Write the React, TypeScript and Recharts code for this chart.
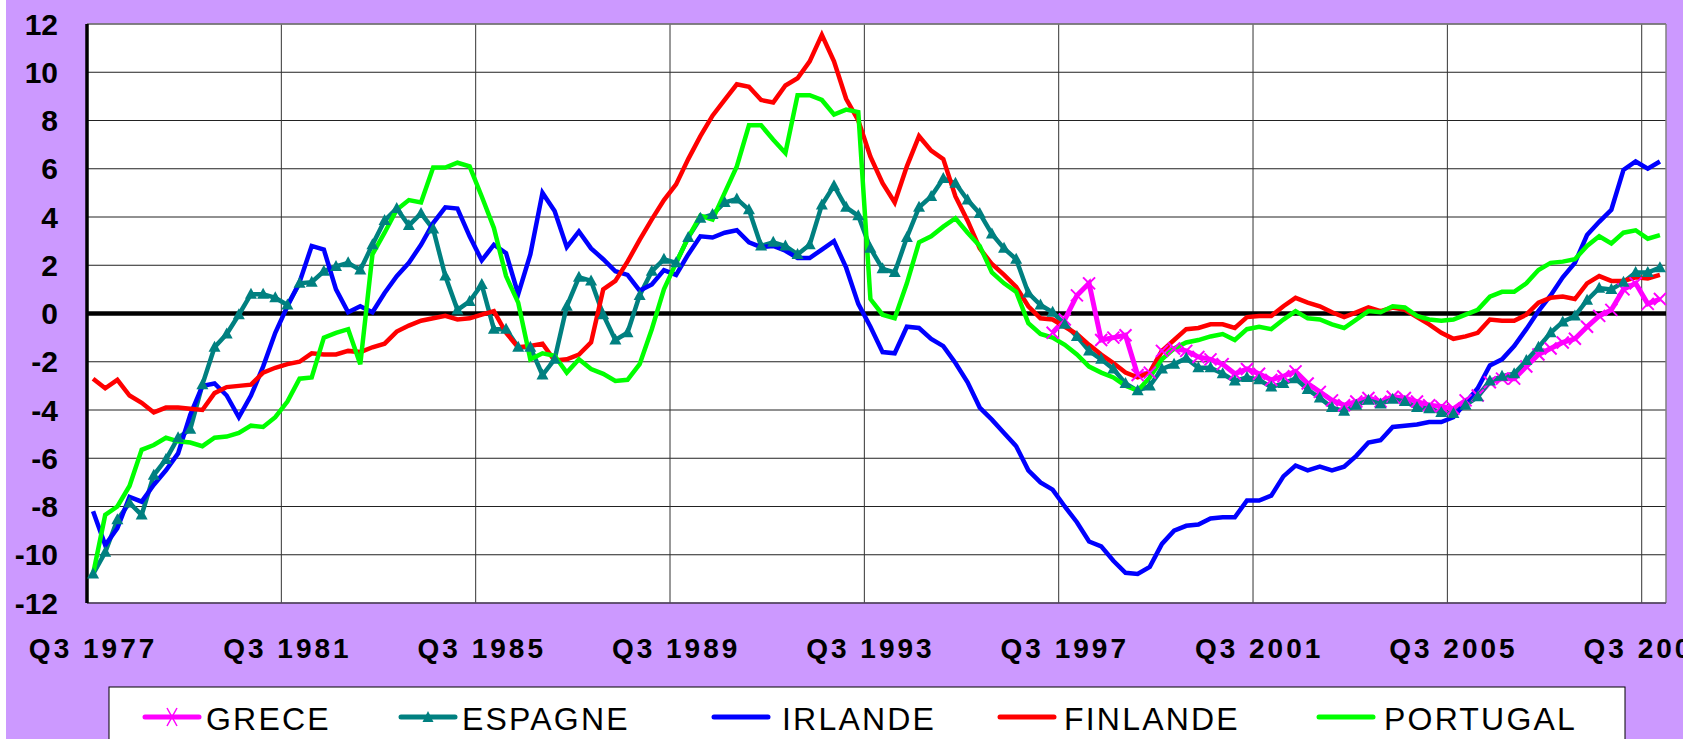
import React from 'react';
import { LineChart, Line, XAxis, YAxis, CartesianGrid, ReferenceLine } from 'recharts';

// quarterly data, Q3 1977 .. Q4 2009
const quarterCount = 130;
const tickQuarters = [0, 16, 32, 48, 64, 80, 96, 112, 128];
const tickLabels = ['Q3 1977', 'Q3 1981', 'Q3 1985', 'Q3 1989', 'Q3 1993', 'Q3 1997', 'Q3 2001', 'Q3 2005', 'Q3 2009'];
const yTicks = [-12, -10, -8, -6, -4, -2, 0, 2, 4, 6, 8, 10, 12];

const greceStart = 79;
const greceValues = [
  -0.8, -0.25, 0.75, 1.25, -1.1, -1.0, -0.9, -2.55, -2.45, -1.55, -1.45, -1.55, -1.8, -1.9, -2.1, -2.5,
  -2.3, -2.5, -2.75, -2.6, -2.4, -2.9, -3.25, -3.6, -3.8, -3.65, -3.5, -3.65, -3.45, -3.5, -3.65, -3.8,
  -3.85, -3.95, -3.6, -3.4, -2.85, -2.7, -2.7, -2.2, -1.7, -1.45, -1.2, -1.05, -0.55, -0.1, 0.15, 1.0,
  1.25, 0.4, 0.6,
];

const espagne = [
  -10.8, -9.9, -8.55, -7.85, -8.35, -6.7, -6.05, -5.15, -4.8, -2.95, -1.4, -0.85, -0.05, 0.8, 0.8, 0.65,
  0.35, 1.25, 1.3, 1.75, 1.95, 2.1, 1.8, 2.85, 3.85, 4.35, 3.65, 4.15, 3.5, 1.55, 0.15, 0.5,
  1.2, -0.65, -0.65, -1.4, -1.4, -2.55, -1.9, 0.3, 1.5, 1.35, -0.05, -1.1, -0.8, 0.75, 1.75, 2.25,
  2.1, 3.15, 3.95, 4.1, 4.6, 4.75, 4.3, 2.8, 2.95, 2.8, 2.45, 2.85, 4.5, 5.3, 4.4, 4.05,
  2.7, 1.85, 1.7, 3.15, 4.4, 4.85, 5.6, 5.4, 4.7, 4.15, 3.3, 2.7, 2.25, 0.85, 0.35, 0.05,
  -0.45, -0.95, -1.55, -1.9, -2.3, -2.9, -3.2, -3.0, -2.3, -2.1, -1.85, -2.25, -2.25, -2.5, -2.8, -2.65,
  -2.75, -3.05, -2.9, -2.7, -3.15, -3.5, -3.9, -4.05, -3.8, -3.6, -3.75, -3.55, -3.65, -3.9, -3.95, -4.1,
  -4.15, -3.8, -3.45, -2.8, -2.6, -2.5, -1.95, -1.4, -0.8, -0.35, -0.1, 0.55, 1.05, 1.0, 1.3, 1.7,
  1.7, 1.9,
];

const irlande = [
  -8.2, -9.6, -8.9, -7.6, -7.8, -7.1, -6.5, -5.8, -4.2, -3.0, -2.9, -3.4, -4.3, -3.4, -2.2, -0.8,
  0.3, 1.3, 2.8, 2.65, 1.0, 0.05, 0.3, 0.05, 0.85, 1.55, 2.1, 2.85, 3.75, 4.4, 4.35, 3.2,
  2.2, 2.85, 2.5, 0.8, 2.45, 5.0, 4.25, 2.75, 3.4, 2.7, 2.25, 1.75, 1.6, 0.95, 1.2, 1.8,
  1.6, 2.45, 3.2, 3.15, 3.35, 3.45, 2.95, 2.75, 2.8, 2.6, 2.3, 2.3, 2.65, 3.0, 1.9, 0.4,
  -0.55, -1.6, -1.65, -0.55, -0.6, -1.05, -1.35, -2.05, -2.85, -3.9, -4.4, -4.95, -5.5, -6.5, -7.0, -7.3,
  -8.0, -8.65, -9.45, -9.65, -10.25, -10.75, -10.8, -10.5, -9.55, -9.0, -8.8, -8.75, -8.5, -8.45, -8.45, -7.75,
  -7.75, -7.55, -6.75, -6.3, -6.5, -6.35, -6.5, -6.35, -5.9, -5.35, -5.25, -4.7, -4.65, -4.6, -4.5, -4.5,
  -4.3, -3.7, -3.1, -2.15, -1.9, -1.35, -0.65, 0.1, 0.75, 1.5, 2.1, 3.25, 3.8, 4.3, 5.95, 6.3,
  6.0, 6.3,
];

const finlande = [
  -2.7, -3.1, -2.75, -3.4, -3.7, -4.1, -3.9, -3.9, -3.95, -4.0, -3.3, -3.05, -3.0, -2.95, -2.45, -2.25,
  -2.1, -2.0, -1.65, -1.7, -1.7, -1.55, -1.6, -1.4, -1.25, -0.75, -0.5, -0.3, -0.2, -0.1, -0.25, -0.2,
  -0.05, 0.1, -0.8, -1.4, -1.35, -1.25, -1.95, -1.9, -1.7, -1.2, 1.0, 1.35, 2.15, 3.05, 3.9, 4.7,
  5.35, 6.4, 7.35, 8.2, 8.85, 9.5, 9.4, 8.85, 8.75, 9.45, 9.75, 10.45, 11.55, 10.45, 8.9, 8.0,
  6.5, 5.4, 4.6, 6.1, 7.35, 6.75, 6.4, 4.85, 3.85, 2.7, 2.05, 1.6, 1.1, 0.3, -0.2, -0.25,
  -0.55, -0.85, -1.3, -1.7, -2.05, -2.45, -2.65, -2.45, -1.55, -1.1, -0.65, -0.6, -0.45, -0.45, -0.6, -0.15,
  -0.1, -0.1, 0.3, 0.65, 0.45, 0.3, 0.05, -0.15, 0.05, 0.25, 0.1, 0.25, 0.15, -0.15, -0.45, -0.8,
  -1.05, -0.95, -0.8, -0.25, -0.3, -0.3, -0.05, 0.45, 0.65, 0.7, 0.6, 1.25, 1.55, 1.35, 1.35, 1.5,
  1.45, 1.6,
];

const portugal = [
  -10.8, -8.35, -8.0, -7.15, -5.65, -5.45, -5.15, -5.3, -5.35, -5.5, -5.15, -5.1, -4.95, -4.65, -4.7, -4.3,
  -3.65, -2.7, -2.65, -1.0, -0.8, -0.65, -2.1, 2.45, 3.35, 4.3, 4.7, 4.6, 6.05, 6.05, 6.25, 6.1,
  4.85, 3.55, 1.55, 0.45, -1.9, -1.65, -1.75, -2.45, -1.9, -2.3, -2.5, -2.8, -2.75, -2.1, -0.65, 1.0,
  2.1, 3.15, 4.05, 3.9, 5.0, 6.1, 7.8, 7.8, 7.2, 6.65, 9.05, 9.05, 8.85, 8.25, 8.45, 8.35,
  0.6, -0.05, -0.2, 1.25, 2.95, 3.2, 3.6, 3.95, 3.35, 2.8, 1.7, 1.25, 0.9, -0.4, -0.85, -1.0,
  -1.3, -1.7, -2.2, -2.45, -2.65, -3.0, -3.2, -2.65, -1.9, -1.45, -1.2, -1.1, -0.95, -0.85, -1.1, -0.65,
  -0.55, -0.65, -0.25, 0.1, -0.2, -0.25, -0.45, -0.6, -0.25, 0.1, 0.05, 0.3, 0.25, -0.1, -0.25, -0.3,
  -0.25, -0.05, 0.15, 0.7, 0.9, 0.9, 1.25, 1.8, 2.1, 2.15, 2.25, 2.8, 3.2, 2.9, 3.35, 3.45,
  3.1, 3.25,
];

const rows = Array.from({ length: quarterCount }, (_, i) => ({
  idx: i,
  grece: i >= greceStart ? greceValues[i - greceStart] : null,
  espagne: espagne[i],
  irlande: irlande[i],
  finlande: finlande[i],
  portugal: portugal[i],
}));

// vertical grid sits on the category boundary left of each labelled quarter
const gridBoundaries = tickQuarters.slice(1).map((q) => q - 0.5);

const FONT = 'Arial, "Liberation Sans", sans-serif';

const TriangleDot = (props: any) => {
  const { cx, cy, index } = props;
  if (cx == null || cy == null) return <g key={`tri-${index}`} />;
  return (
    <polygon
      key={`tri-${index}`}
      points={`${cx},${cy - 6.5} ${cx - 6},${cy + 4.5} ${cx + 6},${cy + 4.5}`}
      fill="#008080"
    />
  );
};

const CrossDot = (props: any) => {
  const { cx, cy, index } = props;
  if (cx == null || cy == null) return <g key={`x-${index}`} />;
  const s = 6;
  return (
    <path
      key={`x-${index}`}
      d={`M${cx - s},${cy - s}L${cx + s},${cy + s}M${cx - s},${cy + s}L${cx + s},${cy - s}`}
      stroke="#FF00FF"
      strokeWidth={2}
    />
  );
};

const XTick = (props: any) => {
  const { x, y, payload } = props;
  const pos = tickQuarters.indexOf(payload.value);
  return (
    <text
      x={x}
      y={y}
      dy="0.71em"
      textAnchor="middle"
      fontFamily={FONT}
      fontSize={28}
      fontWeight={700}
      letterSpacing={3}
      fill="#000"
    >
      {tickLabels[pos]}
    </text>
  );
};

const legendItems = [
  { name: 'GRECE', color: '#FF00FF', marker: 'x', lineX: 139, textX: 200 },
  { name: 'ESPAGNE', color: '#008080', marker: 'tri', lineX: 395, textX: 456 },
  { name: 'IRLANDE', color: '#0000FF', marker: '', lineX: 708, textX: 776 },
  { name: 'FINLANDE', color: '#FF0000', marker: '', lineX: 994, textX: 1058 },
  { name: 'PORTUGAL', color: '#00FF00', marker: '', lineX: 1313, textX: 1378 },
];

function ChartLegend() {
  const ly = 717;
  return (
    <svg width={1677} height={739} style={{ position: 'absolute', left: 0, top: 0, pointerEvents: 'none' }}>
      <rect x={103} y={687} width={1516} height={80} fill="#FFFFFF" stroke="#000" strokeWidth={1} />
      {legendItems.map((it) => {
        const mid = it.lineX + 27;
        return (
          <g key={it.name}>
            <line x1={it.lineX} y1={ly} x2={it.lineX + 54} y2={ly} stroke={it.color} strokeWidth={5} strokeLinecap="round" />
            {it.marker === 'x' && (
              <path d={`M${mid - 5},${ly - 9}L${mid + 5},${ly + 9}M${mid - 5},${ly + 9}L${mid + 5},${ly - 9}`} stroke={it.color} strokeWidth={1.5} />
            )}
            {it.marker === 'tri' && (
              <polygon points={`${mid},${ly - 6} ${mid - 5.5},${ly + 5} ${mid + 5.5},${ly + 5}`} fill={it.color} />
            )}
            <text x={it.textX} y={730} fontFamily={FONT} fontSize={32} letterSpacing={2.2} fill="#000">
              {it.name}
            </text>
          </g>
        );
      })}
    </svg>
  );
}

export default function App() {
  return (
    <div
      style={{
        position: 'absolute',
        left: 6,
        top: 0,
        width: 1677,
        height: 739,
        background: '#CC99FF',
        overflow: 'hidden',
      }}
    >
      <LineChart width={1677} height={739} data={rows} margin={{ top: 24, right: 17, bottom: 76, left: 21 }}>
        <CartesianGrid vertical={false} stroke="#222" strokeWidth={1} fill="#FFFFFF" fillOpacity={1} />
        <XAxis
          type="number"
          dataKey="idx"
          domain={[-0.5, quarterCount - 0.5]}
          ticks={tickQuarters}
          interval={0}
          height={60}
          tickSize={0}
          tickMargin={35}
          tick={<XTick />}
          axisLine={{ stroke: '#5a4a6a', strokeWidth: 1.5 }}
        />
        <YAxis
          domain={[-12, 12]}
          ticks={yTicks}
          interval={0}
          width={60}
          tickSize={0}
          tickMargin={29}
          tick={{ fontSize: 30, fontWeight: 700, fill: '#000', fontFamily: FONT }}
          axisLine={{ stroke: '#000', strokeWidth: 3.5 }}
        />
        {gridBoundaries.map((b) => (
          <ReferenceLine key={b} x={b} stroke="#333" strokeWidth={1} />
        ))}
        <ReferenceLine x={quarterCount - 0.5} stroke="#808080" strokeWidth={1.5} />
        <ReferenceLine y={12} stroke="#808080" strokeWidth={1.5} />
        <ReferenceLine y={0} stroke="#000" strokeWidth={4.5} />
        <Line type="linear" dataKey="grece" stroke="#FF00FF" strokeWidth={5} dot={<CrossDot />} activeDot={false} isAnimationActive={false} />
        <Line type="linear" dataKey="espagne" stroke="#008080" strokeWidth={4.5} dot={<TriangleDot />} activeDot={false} isAnimationActive={false} />
        <Line type="linear" dataKey="irlande" stroke="#0000FF" strokeWidth={4.5} dot={false} activeDot={false} isAnimationActive={false} />
        <Line type="linear" dataKey="finlande" stroke="#FF0000" strokeWidth={4.5} dot={false} activeDot={false} isAnimationActive={false} />
        <Line type="linear" dataKey="portugal" stroke="#00FF00" strokeWidth={4.5} dot={false} activeDot={false} isAnimationActive={false} />
      </LineChart>
      <ChartLegend />
    </div>
  );
}
